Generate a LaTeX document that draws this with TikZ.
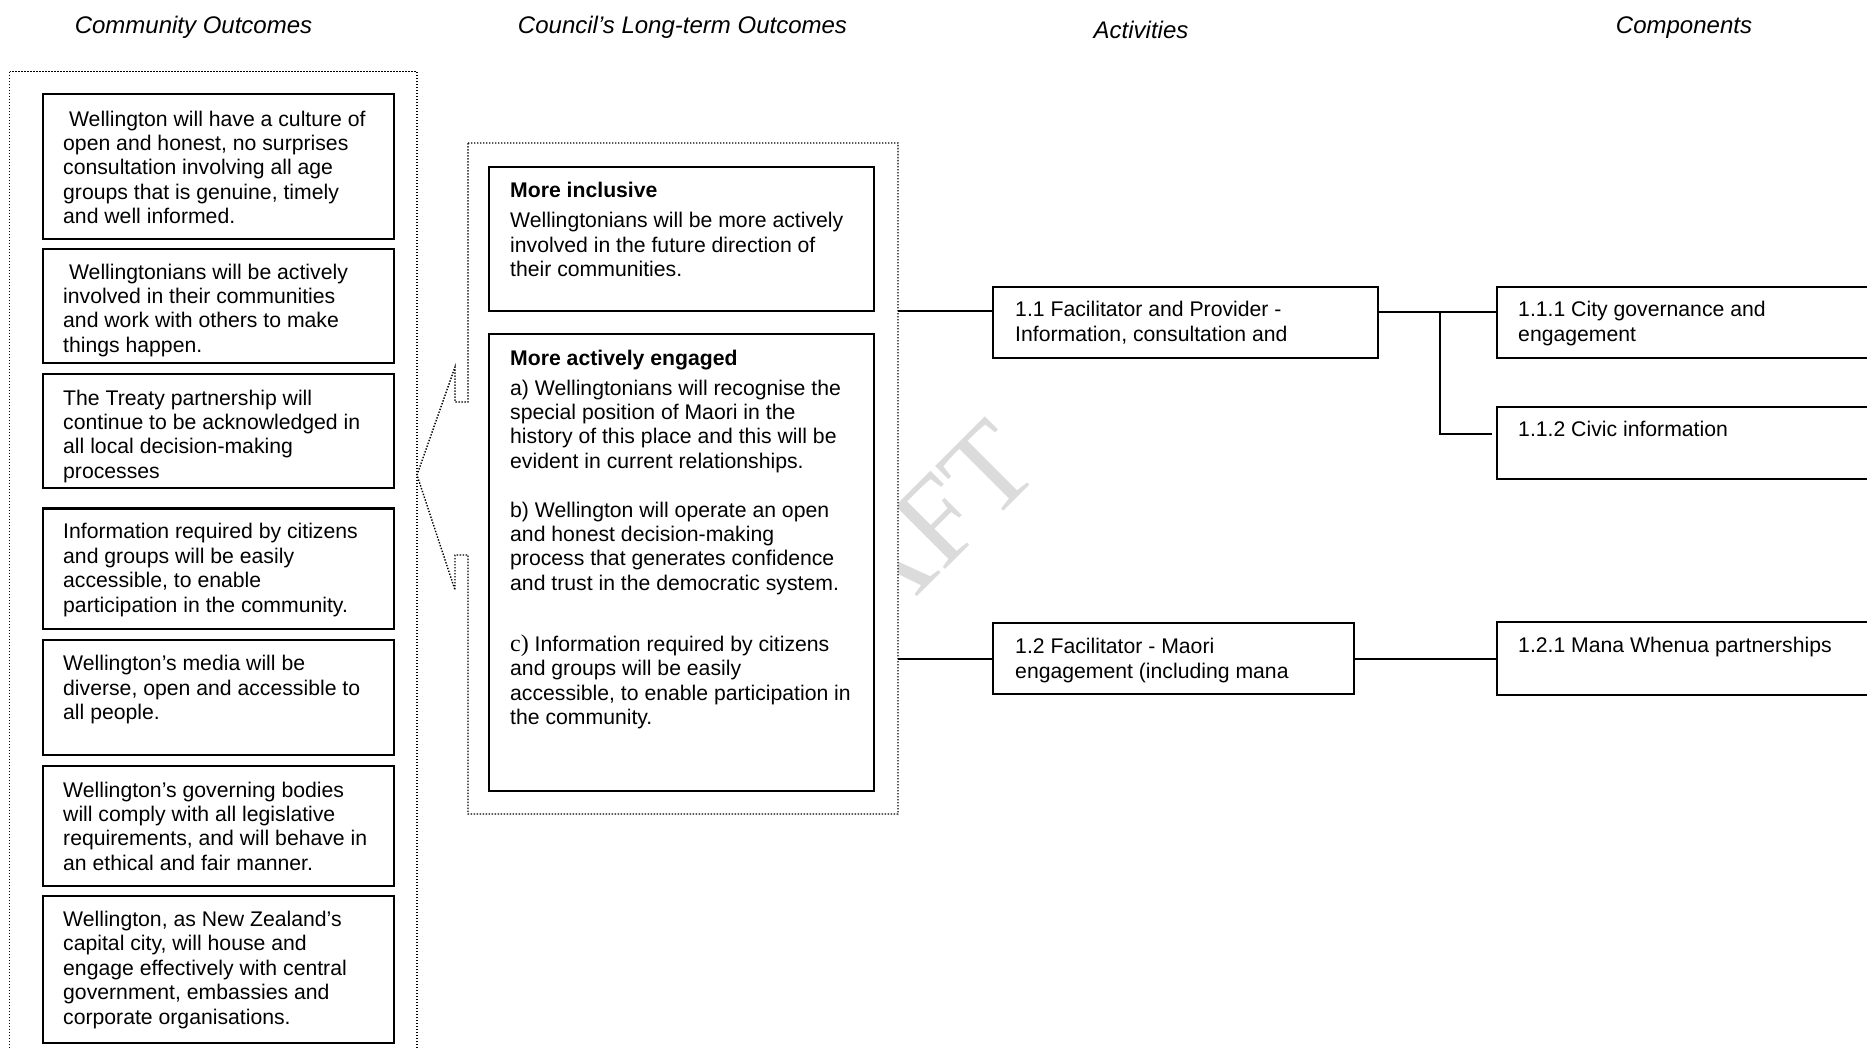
\documentclass[tikz,border=0pt]{standalone}
\usepackage{fontspec}
\setmainfont{Liberation Sans}
\newfontfamily\wmfont{Liberation Serif}
\usetikzlibrary{positioning}

\begin{document}
\begin{tikzpicture}[x=1pt,y=-1pt]
	\tikzset{
		outcome/.style={rectangle, draw=black, line width=2.3pt, fill=white, inner sep=0pt, outer sep=0pt, minimum width=351pt},
		plainbox/.style={rectangle, draw=black, line width=2.1pt, fill=white, inner sep=0pt, outer sep=0pt, anchor=north west},
		boxtext/.style={inner sep=0pt, anchor=base west, align=left, font=\fontsize{21.2}{24.4}\selectfont},
		acttext/.style={boxtext, font=\fontsize{21.2}{25}\selectfont},
		headtext/.style={anchor=base, font=\itshape\fontsize{24}{28}\selectfont},
		dotgroup/.style={draw=black, line width=1.4pt, dash pattern=on 1.4pt off 1.6pt},
		joinline/.style={draw=black, line width=2pt},
		watermark/.style={rotate=45, text=black!14, inner sep=0pt, font=\wmfont\fontsize{122}{122}\selectfont},
	}
	\path[use as bounding box, clip] (0,0) rectangle (1867,1049);

	% column headings
	\node[headtext] (h1) at (193.5,33.3) {Community Outcomes};
	\node[headtext] (h2) at (682.5,33.3) {Council’s Long-term Outcomes};
	\node[headtext] (h3) at (1141,38.3) {Activities};
	\node[headtext] (h4) at (1684,33.3) {Components};

	\node[watermark] (wm) at (873,585) {DRAFT};

	% dotted groups
	\draw[dotgroup] (9.5,71.5) rectangle (417,1070);
	\draw[dotgroup, fill=white] (468,143) -- (898,143) -- (898,814) -- (468,814) -- (468,555) -- (455,555) -- (455,590) -- (417,475) -- (455,367) -- (455,402) -- (468,402) -- cycle;

	% community outcomes
	\node[outcome, minimum height=145pt, anchor=north west] (co1) at (43,94) {};
	\node[outcome, minimum height=114pt, below=10pt of co1] (co2) {};
	\node[outcome, minimum height=114pt, below=11pt of co2] (co3) {};
	\node[outcome, minimum height=120.5pt, below=20.5pt of co3] (co4) {};
	\node[outcome, minimum height=115pt, below=10.7pt of co4] (co5) {};
	\node[outcome, minimum height=120pt, below=11.4pt of co5] (co6) {};
	\node[outcome, minimum height=147pt, below=10pt of co6] (co7) {};

	% text nodes sit on the baseline of their last line
	\node[boxtext] (tco1) at ([shift={(20,129.6)}]co1.north west) {~Wellington will have a culture of\\open and honest, no surprises\\consultation involving all age\\groups that is genuine, timely\\and well informed.};
	\node[boxtext] (tco2) at ([shift={(20,103.2)}]co2.north west) {~Wellingtonians will be actively\\involved in their communities\\and work with others to make\\things happen.};
	\node[boxtext] (tco3) at ([shift={(20,104.2)}]co3.north west) {The Treaty partnership will\\continue to be acknowledged in\\all local decision-making\\processes};
	\node[boxtext] (tco4) at ([shift={(20,103.5)}]co4.north west) {Information required by citizens\\and groups will be easily\\accessible, to enable\\participation in the community.};
	\node[boxtext] (tco5) at ([shift={(20,79.8)}]co5.north west) {Wellington’s media will be\\diverse, open and accessible to\\all people.};
	\node[boxtext] (tco6) at ([shift={(20,104.2)}]co6.north west) {Wellington’s governing bodies\\will comply with all legislative\\requirements, and will behave in\\an ethical and fair manner.};
	\node[boxtext] (tco7) at ([shift={(20,127.9)}]co7.north west) {Wellington, as New Zealand’s\\capital city, will house and\\engage effectively with central\\government, embassies and\\corporate organisations.};

	% council outcomes
	\node[plainbox, minimum width=385pt, minimum height=144pt] (lo1) at (489,167) {};
	\node[plainbox, minimum width=385pt, minimum height=457pt, below=23pt of lo1] (lo2) {};

	\node[boxtext] (tlo1) at ([shift={(21,109.5)}]lo1.north west) {\textbf{More inclusive}\\[5.6pt]Wellingtonians will be more actively\\involved in the future direction of\\their communities.};
	\node[boxtext] (tlo2) at ([shift={(21,390.6)}]lo2.north west) {\textbf{More actively engaged}\\[5.6pt]a) Wellingtonians will recognise the\\special position of Maori in the\\history of this place and this will be\\evident in current relationships.\\[24.4pt]b) Wellington will operate an open\\and honest decision-making\\process that generates confidence\\and trust in the democratic system.\\[36.8pt]{\wmfont\fontsize{24}{24.4}\selectfont c)} Information required by citizens\\and groups will be easily\\accessible, to enable participation in\\the community.};

	% activities and components
	\node[plainbox, minimum width=385pt, minimum height=71pt] (act1) at (993,287) {};
	\node[plainbox, minimum width=361pt, minimum height=71pt] (act2) at (993,623) {};
	\node[plainbox, minimum width=420pt, minimum height=71pt, right=119pt of act1] (comp1) {};
	\node[plainbox, minimum width=420pt, minimum height=72pt, below=49pt of comp1] (comp2) {};
	\node[plainbox, minimum width=420pt, minimum height=73pt, right=143pt of act2] (comp3) {};

	\node[acttext] (tact1) at ([shift={(22,54.7)}]act1.north west) {1.1 Facilitator and Provider -\\Information, consultation and};
	\node[acttext] (tact2) at ([shift={(22,55.3)}]act2.north west) {1.2 Facilitator - Maori\\engagement (including mana};
	\node[acttext] (tcomp1) at ([shift={(21,54.7)}]comp1.north west) {1.1.1 City governance and\\engagement};
	\node[acttext] (tcomp2) at ([shift={(21,29.7)}]comp2.north west) {1.1.2 Civic information};
	\node[acttext] (tcomp3) at ([shift={(21,30.7)}]comp3.north west) {1.2.1 Mana Whenua partnerships};

	% connectors
	\coordinate (lt1) at (898,311);
	\coordinate (br1) at (1440,312);
	\coordinate (br2) at (1492,434);
	\draw[joinline] (lt1) -- (lt1 -| act1.west);
	\draw[joinline] (act2.west -| lt1) -- (act2.west);
	\draw[joinline] (act1.east |- br1) -- (comp1.west |- br1);
	\draw[joinline] (br1) |- (br2);
	\draw[joinline] (act2.east) -- (comp3.west);
\end{tikzpicture}
\end{document}
